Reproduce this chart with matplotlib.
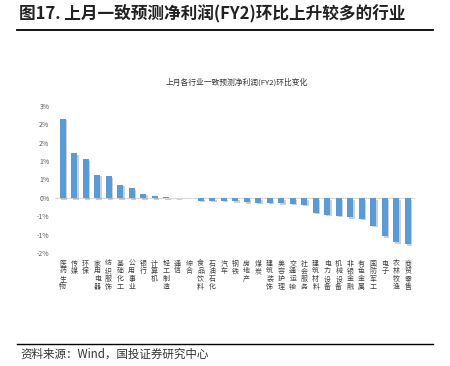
import numpy as np
import matplotlib
matplotlib.use("Agg")
import matplotlib.pyplot as plt
from matplotlib import patheffects as pe
from matplotlib.ticker import FixedLocator, FuncFormatter

plt.rcParams['font.family'] = ['Noto Sans CJK SC', 'DejaVu Sans']

categories = ["医药生物", "传媒", "环保", "家用电器", "纺织服饰", "基础化工", "公用事业",
              "银行", "计算机", "轻工制造", "通信", "综合", "食品饮料", "石油石化", "汽车",
              "钢铁", "房地产", "煤炭", "建筑装饰", "美容护理", "交通运输", "社会服务",
              "建筑材料", "电力设备", "机械设备", "非银金融", "有色金属", "国防军工",
              "电子", "农林牧渔", "商贸零售"]
values = [2.15, 1.22, 1.06, 0.635, 0.59, 0.36, 0.26,
          0.117, 0.045, 0.03, 0.008, 0.0, -0.07, -0.07, -0.07,
          -0.09, -0.11, -0.125, -0.125, -0.145, -0.155, -0.18,
          -0.40, -0.45, -0.48, -0.52, -0.56, -0.75,
          -1.04, -1.20, -1.25]
yticks = [-1.5, -1.0, -0.5, 0.0, 0.5, 1.0, 1.5, 2.0, 2.5]

W, H = 450, 366
fig = plt.figure(figsize=(W / 100, H / 100), dpi=100)

# header
fig.text(19 / W, 1 - 14 / H, "图17. 上月一致预测净利润(FY2)环比上升较多的行业",
         fontsize=12.0, fontweight='bold', color='#222222', va='center', ha='left')
fig.add_artist(plt.Line2D([17 / W, 433 / W], [1 - 29.5 / H, 1 - 29.5 / H],
                          color='black', lw=1.3))
fig.add_artist(plt.Line2D([17 / W, 433 / W], [1 - 344 / H, 1 - 344 / H],
                          color='black', lw=1.0))
fig.text(20 / W, 1 - 354 / H, "资料来源：Wind，国投证券研究中心",
         fontsize=8.3, color='#333333', va='center', ha='left')

# chart title
fig.text(236.5 / W, 1 - 82 / H, "上月各行业一致预测净利润(FY2)环比变化",
         fontsize=5.6, color='#333333', va='center', ha='center')

ax = fig.add_axes([55 / W, 1 - 253.3 / H, 360 / W, (253.3 - 105.7) / H])
x = np.arange(len(categories))
bars = ax.bar(x, values, width=0.5, color='#5B9BD5', zorder=3)
for b in bars:
    b.set_path_effects([pe.SimplePatchShadow(offset=(1.2, -1.2), shadow_rgbFace='#888888', alpha=0.4),
                        pe.Normal()])

ax.axhline(0, color='#D9D9D9', lw=0.8, zorder=2)
ax.set_xlim(-0.67, 30.63)
ax.set_ylim(-1.5, 2.5)
for s in ax.spines.values():
    s.set_visible(False)

ax.yaxis.set_major_locator(FixedLocator(yticks))
ax.yaxis.set_major_formatter(FuncFormatter(
    lambda v, p: f"{int(np.sign(v) * np.floor(abs(v) + 0.5))}%"))
ax.tick_params(axis='y', length=0, labelsize=5, labelcolor='#595959', pad=4)

ax.set_xticks(x)
ax.set_xticklabels(["\n".join(c) for c in categories], fontsize=5.0,
                   color='#404040', linespacing=0.95, va='top')
ax.tick_params(axis='x', length=0, pad=4.5)

fig.savefig("out.png", dpi=100)
